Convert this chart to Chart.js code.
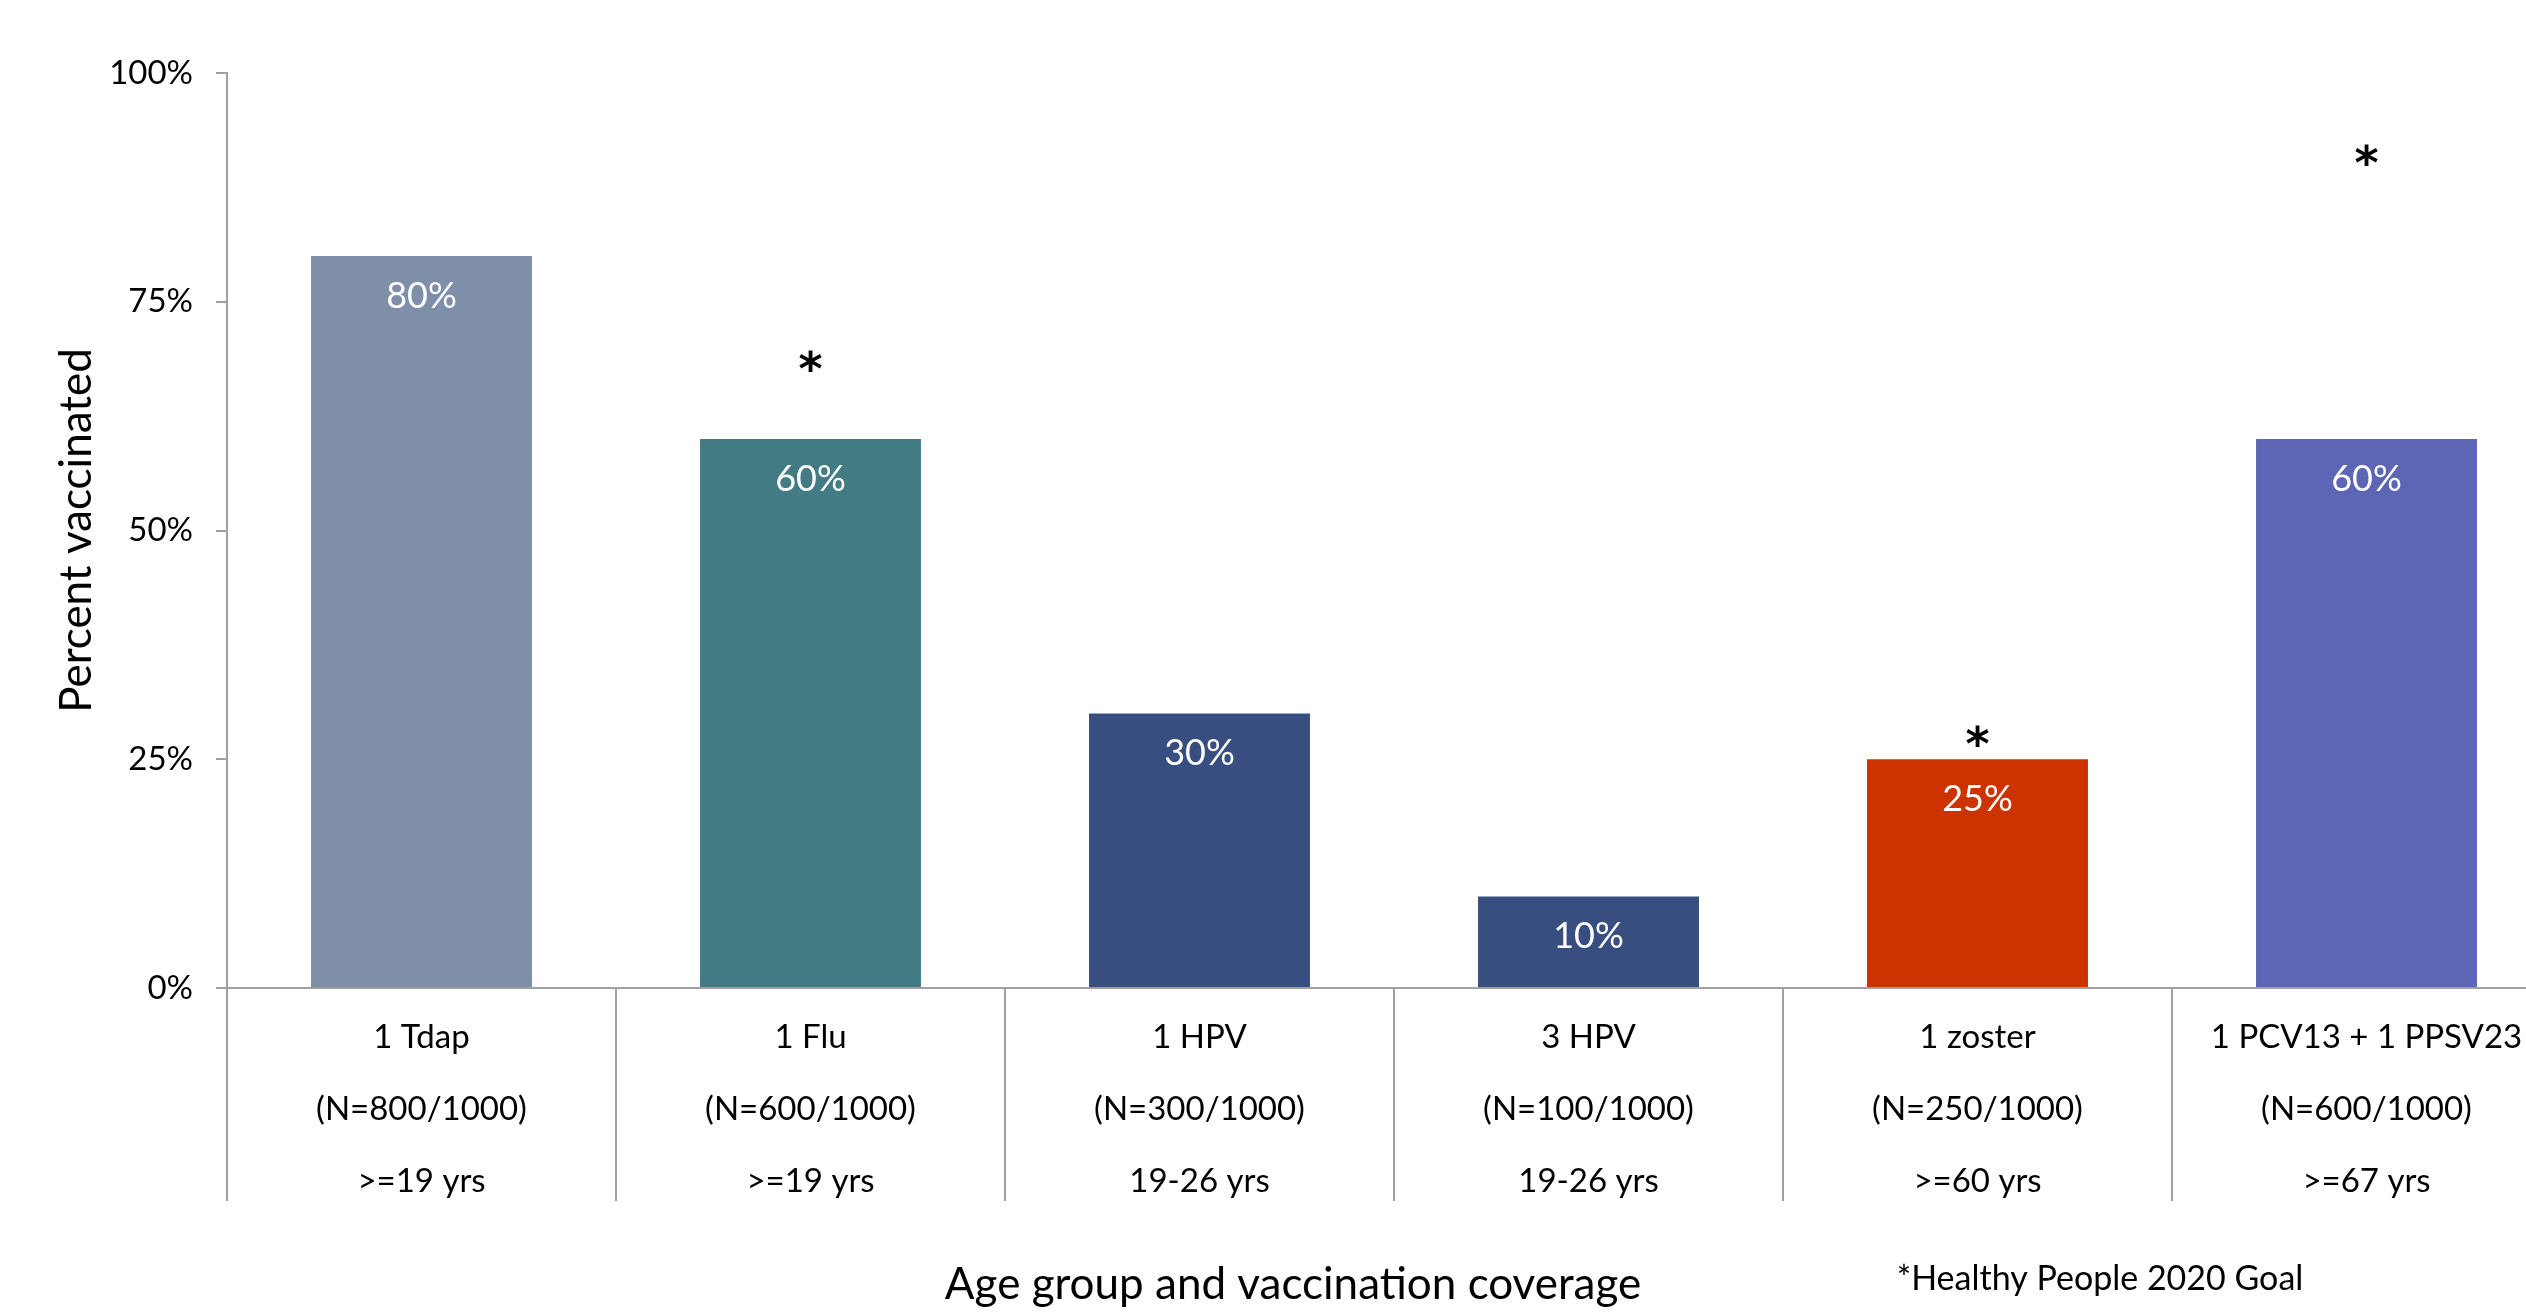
<!DOCTYPE html>
<html>
<head>
<meta charset="utf-8">
<title>Adult vaccination coverage</title>
<script src="https://cdn.jsdelivr.net/npm/chart.js@4/dist/chart.umd.min.js"></script>
<style>
  html, body { margin: 0; padding: 0; background: #fff; overflow: hidden; }
  #wrap { position: absolute; left: 0; top: 0; width: 2586px; height: 1312px; }
</style>
</head>
<body>
<div id="wrap"><canvas id="chart" width="2586" height="1312"></canvas></div>
<script>
// Vaccine / dose groups shown along the x axis (one array per label line)
const vaccines = ['1 Tdap', '1 Flu', '1 HPV', '3 HPV', '1 zoster', '1 PCV13 + 1 PPSV23'];
const counts = ['(N=800/1000)', '(N=600/1000)', '(N=300/1000)', '(N=100/1000)', '(N=250/1000)', '(N=600/1000)'];
const ageGroups = ['>=19 yrs', '>=19 yrs', '19-26 yrs', '19-26 yrs', '>=60 yrs', '>=67 yrs'];

// Percent vaccinated in each group
const coverage = [80, 60, 30, 10, 25, 60];

// Healthy People 2020 goal markers (asterisks), null where no goal is marked
const goalMarks = [null, 68.5, null, null, 27.5, 91];

// Bar fill per group
const barColors = ['#7f8faa', '#427b84', '#394e80', '#394e80', '#cc3300', '#5c66b5'];

// y axis tick values
const yTicks = [0, 25, 50, 75, 100];

const categoryLabels = vaccines.map((v, i) => [v, counts[i], ageGroups[i]]);

const AXIS_GREY = '#a0a0a0';
const FONT = 'Lato, "Open Sans", sans-serif';

// Value labels inside the bars, goal asterisks, axis title and footnote
const annotate = {
  id: 'annotate',
  afterDatasetsDraw(chart) {
    const ctx = chart.ctx;
    ctx.save();

    // percentage inside the top of each bar
    ctx.font = '36px ' + FONT;
    ctx.fillStyle = '#ffffff';
    ctx.textAlign = 'center';
    ctx.textBaseline = 'middle';
    chart.getDatasetMeta(0).data.forEach((bar, i) => {
      ctx.fillText(coverage[i] + '%', bar.x, bar.y + 40);
    });

    // asterisk at each goal position
    ctx.font = 'bold 46px "DejaVu Sans"';
    ctx.fillStyle = '#000000';
    ctx.textBaseline = 'alphabetic';
    const m = ctx.measureText('*');
    const shift = (m.actualBoundingBoxAscent - m.actualBoundingBoxDescent) / 2;
    chart.getDatasetMeta(1).data.forEach((pt, i) => {
      if (goalMarks[i] === null) return;
      ctx.fillText('*', pt.x, pt.y + shift);
    });

    // x axis title, centred on the canvas
    ctx.font = '44px ' + FONT;
    ctx.textBaseline = 'middle';
    ctx.fillText('Age group and vaccination coverage', chart.width / 2, 1285);

    // footnote
    ctx.font = '34px ' + FONT;
    ctx.fillText('*Healthy People 2020 Goal', 2100, 1279);

    ctx.restore();
  }
};

new Chart(document.getElementById('chart'), {
  data: {
    labels: categoryLabels,
    datasets: [
      {
        type: 'bar',
        label: 'Percent vaccinated',
        data: coverage,
        backgroundColor: barColors,
        borderWidth: 0,
        categoryPercentage: 1,
        barPercentage: 0.568,
        order: 2
      },
      {
        type: 'line',
        label: 'Healthy People 2020 Goal',
        data: goalMarks,
        showLine: false,
        pointRadius: 0,
        pointHoverRadius: 0,
        order: 1
      }
    ]
  },
  plugins: [annotate],
  options: {
    responsive: false,
    animation: false,
    events: [],
    layout: { padding: { top: 73, right: 25, bottom: 0, left: 0 } },
    plugins: {
      legend: { display: false },
      tooltip: { enabled: false },
      title: { display: false }
    },
    scales: {
      x: {
        type: 'category',
        offset: true,
        grid: {
          offset: true,
          drawOnChartArea: false,
          drawTicks: true,
          tickLength: 213,
          color: AXIS_GREY,
          lineWidth: 2
        },
        border: { display: true, color: AXIS_GREY, width: 2 },
        ticks: {
          autoSkip: false,
          maxRotation: 0,
          minRotation: 0,
          padding: -200,
          color: '#000000',
          font: { family: FONT, size: 33, lineHeight: 72 / 33 }
        },
        afterFit(scale) { scale.height = 324; }
      },
      y: {
        min: 0,
        max: 100,
        afterBuildTicks(scale) { scale.ticks = yTicks.map(v => ({ value: v })); },
        grid: {
          drawOnChartArea: false,
          drawTicks: true,
          tickLength: 11,
          color: AXIS_GREY,
          lineWidth: 2
        },
        border: { display: true, color: AXIS_GREY, width: 2 },
        ticks: {
          padding: 23,
          color: '#000000',
          font: { family: FONT, size: 33 },
          callback: v => v + '%'
        },
        title: {
          display: true,
          text: 'Percent vaccinated',
          color: '#000000',
          font: { family: FONT, size: 44 },
          padding: { top: 50, bottom: 0 }
        },
        afterFit(scale) { scale.width = 227; }
      }
    }
  }
});
</script>
</body>
</html>
